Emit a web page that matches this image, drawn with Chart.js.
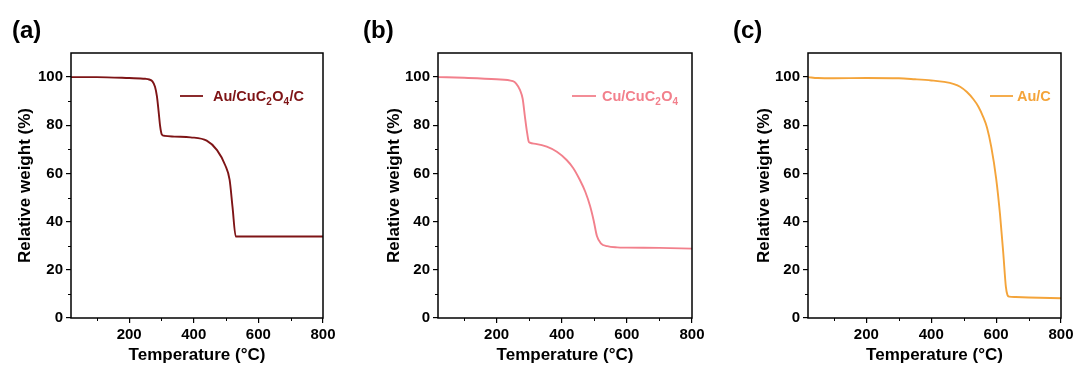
<!DOCTYPE html>
<html><head><meta charset="utf-8">
<script src="https://cdn.jsdelivr.net/npm/chart.js@4.4.1/dist/chart.umd.min.js"></script>
<style>
html,body{margin:0;padding:0;background:#fff;width:1078px;height:371px;overflow:hidden}
canvas{position:absolute;top:0}
</style></head><body>
<canvas id="ca" width="340" height="371" style="left:0px"></canvas>
<canvas id="cb" width="350" height="371" style="left:360px"></canvas>
<canvas id="cc" width="358" height="371" style="left:720px"></canvas>
<script>
// ---- data ----
const tempA = [20, 100, 200, 250, 262, 272, 280, 286, 291, 296, 301, 310, 340, 390, 440, 472, 497, 511, 520, 530, 540, 700, 800];
const weightA = [100, 100, 99.6, 99.3, 99, 98.2, 96, 92, 86, 79.5, 76.2, 75.6, 75.3, 75, 73.6, 69.7, 63.5, 57.3, 46, 33.8, 33.8, 33.8, 33.8];
const tempB = [20, 100, 200, 250, 260, 272, 280, 287, 293, 298, 302, 320, 354, 385, 415, 435, 455, 472, 487, 498, 508, 520, 540, 570, 600, 700, 800];
const weightB = [100, 99.7, 99.1, 98.3, 97.3, 94.6, 91, 83.5, 77.5, 73.5, 72.8, 72.3, 71.1, 69, 65.6, 62.3, 57.5, 52.5, 46.5, 40.5, 34, 31, 29.8, 29.3, 29.2, 29.1, 28.8];
const tempC = [20, 50, 100, 200, 300, 350, 400, 440, 470, 489, 510, 530, 545, 560, 572, 585, 600, 612, 622, 630, 635, 640, 660, 700, 800];
const weightC = [100, 99.6, 99.5, 99.6, 99.5, 99.1, 98.6, 98, 97.1, 96, 93.8, 90.8, 87.8, 83.5, 79, 71, 58, 43, 27, 13, 9.5, 8.9, 8.7, 8.5, 8.2];
const xTicks = [200, 400, 600, 800];
const xMinor = [100, 300, 500, 700];
const yTicks = [0, 20, 40, 60, 80, 100];
const yMinor = [10, 30, 50, 70, 90];
const xTitle = 'Temperature (°C)';
const yTitle = 'Relative weight (%)';
const labelA = [['Au/CuC',0],['2',1],['O',0],['4',1],['/C',0]];
const labelB = [['Cu/CuC',0],['2',1],['O',0],['4',1]];
const labelC = [['Au/C',0]];

const FONT = "'Liberation Sans', Arial, sans-serif";
Chart.defaults.font.family = FONT;

const framePlugin = {
  id: 'frame',
  afterDraw(chart, args, o) {
    const {ctx, chartArea: a, scales: {x, y}} = chart;
    ctx.save();
    ctx.strokeStyle = '#000';
    ctx.lineWidth = 1.5;
    ctx.strokeRect(a.left, a.top, a.right - a.left, a.bottom - a.top);
    ctx.lineWidth = 1;
    xMinor.forEach(v => { const p = Math.round(x.getPixelForValue(v)) + 0.5; ctx.beginPath(); ctx.moveTo(p, a.bottom); ctx.lineTo(p, a.bottom + 3); ctx.stroke(); });
    yMinor.forEach(v => { const p = Math.round(y.getPixelForValue(v)) + 0.5; ctx.beginPath(); ctx.moveTo(a.left, p); ctx.lineTo(a.left - 3, p); ctx.stroke(); });
    // legend
    const ly = a.top + 43;
    ctx.strokeStyle = o.color; ctx.lineWidth = 1.8;
    ctx.beginPath(); ctx.moveTo(a.left + o.lx0, ly); ctx.lineTo(a.left + o.lx1, ly); ctx.stroke();
    ctx.fillStyle = o.color; ctx.textBaseline = 'alphabetic'; ctx.textAlign = 'left';
    let tx = a.left + o.tx;
    o.parts.forEach(([t, sub]) => {
      ctx.font = 'bold ' + (sub ? 10 : 14.5) + 'px ' + FONT;
      ctx.fillText(t, tx, ly + 5 + (sub ? 4 : 0));
      tx += ctx.measureText(t).width + (sub ? 0.5 : 0);
    });
    // panel label
    ctx.fillStyle = '#000';
    ctx.font = 'bold 24px ' + FONT;
    ctx.fillText(o.panel, o.px, 38);
    ctx.restore();
  }
};

function makeChart(id, temps, weights, color, cfg) {
  const pts = temps.map((t, i) => ({x: t, y: weights[i]}));
  new Chart(document.getElementById(id), {
    type: 'line',
    data: {datasets: [{data: pts, borderColor: color, borderWidth: 1.9, pointRadius: 0, cubicInterpolationMode: 'monotone', fill: false}]},
    options: {
      responsive: false, animation: false, events: [],
      layout: {padding: {left: 0, right: cfg.rp, top: 53, bottom: 0}},
      plugins: {legend: {display: false}, tooltip: {enabled: false},
        frame: {color: color, parts: cfg.parts, lx0: cfg.lx0, lx1: cfg.lx1, tx: cfg.tx, panel: cfg.panel, px: cfg.px}},
      scales: {
        x: {type: 'linear', min: 20, max: 800,
          afterBuildTicks: s => { s.ticks = xTicks.map(v => ({value: v})); },
          afterFit: s => { s.height = 53; },
          grid: {drawOnChartArea: false, drawTicks: true, tickLength: 5, color: '#000', lineWidth: 1.2},
          border: {display: false},
          ticks: {padding: 3, color: '#000', maxRotation: 0, font: {size: 15, weight: 'bold'}},
          title: {display: true, text: xTitle, color: '#000', font: {size: 17, weight: 'bold'}, padding: {top: 0, bottom: 5}}
        },
        y: {min: 0, max: 110,
          afterBuildTicks: s => { s.ticks = yTicks.map(v => ({value: v})); },
          afterFit: s => { s.width = cfg.yw; },
          grid: {drawOnChartArea: false, drawTicks: true, tickLength: 5, color: '#000', lineWidth: 1.2},
          border: {display: false},
          ticks: {padding: 3, color: '#000', font: {size: 15, weight: 'bold'}},
          title: {display: true, text: yTitle, color: '#000', font: {size: 17, weight: 'bold'}, padding: {top: cfg.tp, bottom: 0}}
        }
      }
    },
    plugins: [framePlugin]
  });
}

makeChart('ca', tempA, weightA, '#7E1416', {rp: 17, yw: 71, tp: 14.8, parts: labelA, lx0: 109, lx1: 132, tx: 142, panel: '(a)', px: 12});
makeChart('cb', tempB, weightB, '#F2808C', {rp: 18, yw: 78, tp: 23.8, parts: labelB, lx0: 134, lx1: 158, tx: 164, panel: '(b)', px: 3});
makeChart('cc', tempC, weightC, '#F4A43A', {rp: 17, yw: 88, tp: 34.3, parts: labelC, lx0: 182, lx1: 205, tx: 209, panel: '(c)', px: 13});
</script>
</body></html>
